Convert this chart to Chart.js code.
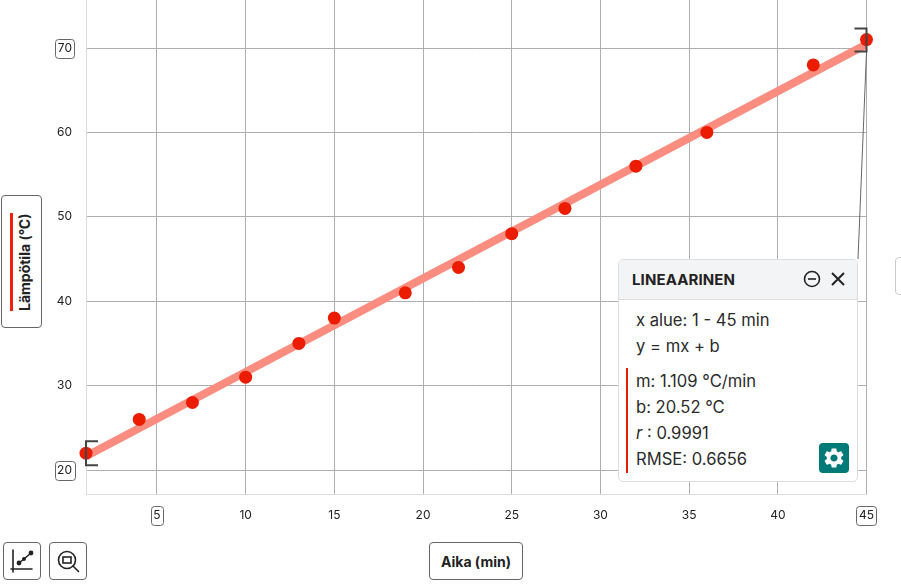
<!DOCTYPE html>
<html>
<head>
<meta charset="utf-8">
<title>Lämpötila</title>
<script src="https://cdn.jsdelivr.net/npm/chart.js@4/dist/chart.umd.js"></script>
<style>
  html, body { margin: 0; padding: 0; background: #fff; overflow: hidden; }
  body { width: 901px; height: 587px; position: relative; font-family: Inter, "Noto Sans", sans-serif; color: #333; }
  canvas { position: absolute; left: 0; top: 0; }
  .btn { position: absolute; box-sizing: border-box; background: #fff; border: 1px solid #666; border-radius: 4px; display: flex; align-items: center; justify-content: center; }
  #xTitle { left: 429px; top: 542px; width: 94px; height: 38px; font-size: 14px; font-weight: 700; color: #222; }
  #yTitle { left: 1px; top: 195px; width: 41px; height: 133px; }
  #yTitle span { position: absolute; left: 14px; top: 18px; height: 97px; line-height: 17px; writing-mode: vertical-rl; transform: rotate(180deg); font-size: 14px; font-weight: 700; color: #222; white-space: nowrap; text-align: left; }
  #yTitle i { position: absolute; left: 8px; top: 17px; width: 3px; height: 98px; background: #f0200a; }
  #graphBtn { left: 3px; top: 542px; width: 38px; height: 38px; }
  #zoomBtn { left: 49px; top: 542px; width: 38px; height: 38px; }
  #edgeBtn { left: 895px; top: 257px; width: 20px; height: 38px; border-color: #ccc; }
  #panel { position: absolute; left: 618px; top: 259px; width: 240px; height: 223px; box-sizing: border-box; background: #fff; border: 1px solid #ddd; border-radius: 5px; font-size: 16.6px; line-height: 26px; color: #2b2b2b; }
  #panelHead { height: 39px; background: #f3f4f6; border-bottom: 1px solid #ddd; border-radius: 4px 4px 0 0; position: relative; }
  #panelHead b { position: absolute; left: 13px; top: 7px; font-size: 15px; color: #222; letter-spacing: .1px; }
  #panelHead svg { position: absolute; top: 10px; }
  .row { position: absolute; left: 17px; white-space: nowrap; }
  #redBar { position: absolute; left: 7px; top: 108px; width: 2px; height: 105px; background: #e81c00; }
  #gear { position: absolute; left: 200px; top: 183px; width: 30px; height: 30px; background: #007a78; border-radius: 4px; display: flex; align-items: center; justify-content: center; }
</style>
</head>
<body>
<canvas id="chart" width="901" height="587"></canvas>

<div class="btn" id="yTitle"><i></i><span>Lämpötila (°C)</span></div>
<div class="btn" id="xTitle">Aika (min)</div>
<div class="btn" id="graphBtn">
  <svg width="28" height="28" viewBox="0 0 28 28" fill="none" stroke="#222" stroke-width="1.6" stroke-linecap="round">
    <path d="M5 3v22M3 22h21"/>
    <path d="M11 16l5-4 7-6"/>
    <circle cx="11" cy="16" r="1.6" fill="#222"/><circle cx="16" cy="12" r="1.2" fill="#222"/><circle cx="23" cy="6" r="1.6" fill="#222"/>
  </svg>
</div>
<div class="btn" id="zoomBtn">
  <svg width="28" height="28" viewBox="0 0 28 28" fill="none" stroke="#222" stroke-width="1.6" stroke-linecap="round">
    <circle cx="13" cy="13" r="8.5"/><rect x="9" y="10" width="8" height="6"/><path d="M19 19l5.5 5.5"/>
  </svg>
</div>
<div class="btn" id="edgeBtn"></div>

<div id="panel">
  <div id="panelHead">
    <b>LINEAARINEN</b>
    <svg style="left:184px" width="18" height="18" viewBox="0 0 18 18" fill="none" stroke="#222" stroke-width="1.6"><circle cx="9" cy="9" r="7.5"/><path d="M5 9h8"/></svg>
    <svg style="left:210px" width="18" height="18" viewBox="0 0 18 18" fill="none" stroke="#222" stroke-width="2"><path d="M3 3l12 12M15 3L3 15"/></svg>
  </div>
  <div class="row" style="top:47px">x alue: 1 - 45 min</div>
  <div class="row" style="top:73px">y = mx + b</div>
  <div id="redBar"></div>
  <div class="row" style="top:108px">m: 1.109 °C/min</div>
  <div class="row" style="top:134px">b: 20.52 °C</div>
  <div class="row" style="top:160px"><em>r</em> : 0.9991</div>
  <div class="row" style="top:186px">RMSE: 0.6656</div>
  <div id="gear">
    <svg width="24" height="24" viewBox="0 0 24 24" fill="#fff"><path d="M19.14 12.94c.04-.3.06-.61.06-.94 0-.32-.02-.64-.07-.94l2.03-1.58a.49.49 0 0 0 .12-.61l-1.92-3.32a.488.488 0 0 0-.59-.22l-2.39.96c-.5-.38-1.03-.7-1.62-.94l-.36-2.54a.484.484 0 0 0-.48-.41h-3.84c-.24 0-.43.17-.47.41l-.36 2.54c-.59.24-1.13.57-1.62.94l-2.39-.96c-.22-.08-.47 0-.59.22L2.74 8.87c-.12.21-.08.47.12.61l2.03 1.58c-.05.3-.09.63-.09.94s.02.64.07.94l-2.03 1.58a.49.49 0 0 0-.12.61l1.92 3.32c.12.22.37.29.59.22l2.39-.96c.5.38 1.03.7 1.62.94l.36 2.54c.05.24.24.41.48.41h3.84c.24 0 .44-.17.47-.41l.36-2.54c.59-.24 1.13-.56 1.62-.94l2.39.96c.22.08.47 0 .59-.22l1.92-3.32c.12-.22.07-.47-.12-.61l-2.01-1.58zM12 15.6c-1.98 0-3.6-1.62-3.6-3.6s1.62-3.6 3.6-3.6 3.6 1.62 3.6 3.6-1.62 3.6-3.6 3.6z"/></svg>
  </div>
</div>

<script>
const times = [1, 4, 7, 10, 13, 15, 19, 22, 25, 28, 32, 36, 42, 45]
const temps = [22, 26, 28, 31, 35, 38, 41, 44, 48, 51, 56, 60, 68, 71]
const fitTimes = [1, 45]
const fitTemps = [21.63, 70.43]
const xTicks = [5, 10, 15, 20, 25, 30, 35, 40, 45]
const yTicks = [20, 30, 40, 50, 60, 70]
const boxedX = [5, 45]
const boxedY = [20, 70]

const tickFont = "12px Inter, 'Noto Sans', sans-serif"

function boxLabel(ctx, text, cx, cy) {
  ctx.font = tickFont
  const w = Math.max(ctx.measureText(text).width + 5, 12)
  const h = 19
  ctx.beginPath()
  ctx.roundRect(Math.round(cx - w / 2) + 0.5, Math.round(cy - h / 2) + 0.5, Math.round(w), h, 3)
  ctx.strokeStyle = "#666"
  ctx.lineWidth = 1
  ctx.stroke()
}

// Piirtoalue ulottuu kankaan yläreunaan asti
const fullTop = {
  id: "fullTop",
  afterLayout(chart) {
    const y = chart.scales.y
    chart.chartArea.top = 0
    chart.chartArea.height = chart.chartArea.bottom
    y.top = 0
    y.height = y.bottom
    y.configure()
  },
}

// Hakasulkeet sovituksen päissä, viiva paneeliin ja laatikot akselin päätearvoille
const decorations = {
  id: "decorations",
  afterDraw(chart) {
    const { ctx, scales } = chart
    const x = scales.x
    const y = scales.y
    ctx.save()

    boxedX.forEach((v) => boxLabel(ctx, String(v), x.getPixelForValue(v), x.top + 21))
    boxedY.forEach((v) => boxLabel(ctx, String(v), 65, y.getPixelForValue(v)))

    const last = times.length - 1
    const endX = x.getPixelForValue(times[last])
    const endY = y.getPixelForValue(temps[last])
    const startX = x.getPixelForValue(times[0])
    const startY = y.getPixelForValue(temps[0])

    ctx.strokeStyle = "#666"
    ctx.lineWidth = 1
    ctx.beginPath()
    ctx.moveTo(endX, endY + 12)
    ctx.lineTo(858, 259)
    ctx.stroke()

    ctx.strokeStyle = "#444"
    ctx.lineWidth = 2
    ctx.beginPath()
    ctx.moveTo(startX + 12, startY - 12)
    ctx.lineTo(startX, startY - 12)
    ctx.lineTo(startX, startY + 12)
    ctx.lineTo(startX + 12, startY + 12)
    ctx.moveTo(endX - 12, endY - 11)
    ctx.lineTo(endX, endY - 11)
    ctx.lineTo(endX, endY + 12)
    ctx.lineTo(endX - 12, endY + 12)
    ctx.stroke()
    ctx.restore()
  },
}

new Chart(document.getElementById("chart").getContext("2d"), {
  type: "line",
  data: {
    datasets: [
      {
        label: "Lineaarinen",
        data: fitTimes.map((t, i) => ({ x: t, y: fitTemps[i] })),
        borderColor: "#fa8d80",
        borderWidth: 8,
        pointRadius: 0,
        borderCapStyle: "butt",
        order: 2,
      },
      {
        label: "Lämpötila (°C)",
        data: times.map((t, i) => ({ x: t, y: temps[i] })),
        showLine: false,
        pointRadius: 6.5,
        pointBackgroundColor: "#ec1c00",
        pointBorderWidth: 0,
        clip: false,
        order: 1,
      },
    ],
  },
  options: {
    responsive: false,
    animation: false,
    layout: { padding: { top: 0, left: 0, right: 34.5, bottom: 0 } },
    plugins: { legend: { display: false }, tooltip: { enabled: false } },
    scales: {
      x: {
        type: "linear",
        min: 1,
        max: 45,
        afterBuildTicks: (scale) => {
          scale.ticks = xTicks.map((v) => ({ value: v }))
        },
        afterFit: (scale) => {
          scale.height = 93
          scale.paddingLeft = 0
          scale.paddingRight = 0
        },
        grid: { color: "#aeaeae", lineWidth: 1, drawTicks: false },
        border: { color: "#ddd" },
        ticks: { color: "#222", font: { size: 12, family: "Inter, 'Noto Sans', sans-serif" }, padding: 14, maxRotation: 0, autoSkip: false },
      },
      y: {
        min: 17.16,
        max: 75.69,
        afterBuildTicks: (scale) => {
          scale.ticks = yTicks.map((v) => ({ value: v }))
        },
        afterFit: (scale) => {
          scale.width = 86
          scale.paddingTop = 0
          scale.paddingBottom = 0
        },
        grid: { color: "#aeaeae", lineWidth: 1, drawTicks: false },
        border: { color: "#ddd" },
        ticks: { color: "#222", font: { size: 12, family: "Inter, 'Noto Sans', sans-serif" }, padding: 14, autoSkip: false },
      },
    },
  },
  plugins: [fullTop, decorations],
})
</script>
</body>
</html>
